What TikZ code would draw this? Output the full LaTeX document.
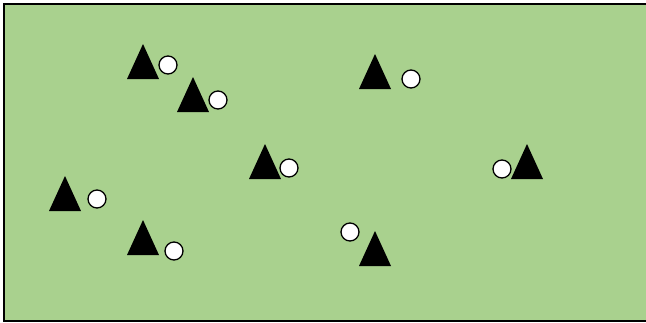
\documentclass[tikz,border=0pt]{standalone}
\definecolor{fieldgreen}{HTML}{A9D18E}
\tikzset{
  field/.style={fill=fieldgreen, draw=black, line width=1.6pt},
  marker/.style={fill=black},
  ball/.style={circle, fill=white, draw=black, line width=1.3pt, minimum size=18pt, inner sep=0pt},
}
\newcommand{\conemark}[3]{\fill[marker] (#2,#3) coordinate (#1) -- ++(16,35) -- ++(-32,0) -- cycle;}
\begin{document}
\begin{tikzpicture}[x=1pt,y=-1pt]
\useasboundingbox (0,0) rectangle (646,322);
\clip (0,0) rectangle (646,322);
\draw[field] (4,4) rectangle (652,321);
\conemark{t1}{143}{44}
\conemark{t2}{193}{77}
\conemark{t3}{65}{176}
\conemark{t4}{143}{220}
\conemark{t5}{375}{54}
\conemark{t6}{265}{144}
\conemark{t7}{375}{231}
\conemark{t8}{527}{144}
\node[ball] (b1) at (168,65) {};
\node[ball] (b2) at (218,100) {};
\node[ball] (b3) at (97,199) {};
\node[ball] (b4) at (174,251) {};
\node[ball] (b5) at (411,79) {};
\node[ball] (b6) at (289,168) {};
\node[ball] (b7) at (350,232) {};
\node[ball] (b8) at (502,169) {};
\end{tikzpicture}
\end{document}
